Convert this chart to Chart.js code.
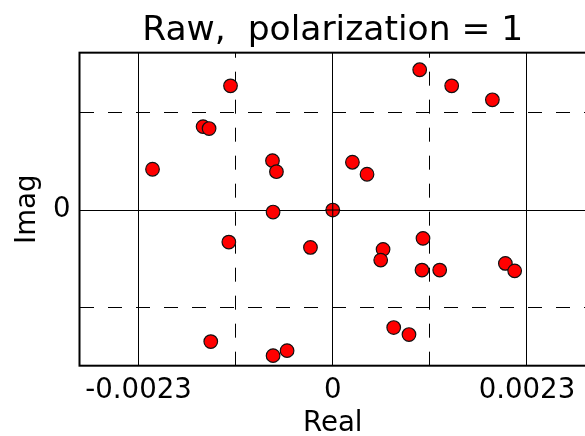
<!DOCTYPE html>
<html>
<head>
<meta charset="utf-8">
<script src="https://cdn.jsdelivr.net/npm/chart.js@4.4.0/dist/chart.umd.min.js"></script>
<style>
html, body { margin: 0; padding: 0; background: #fff; overflow: hidden; }
canvas { display: block; }
</style>
</head>
<body>
<canvas id="polChart" width="586" height="436"></canvas>
<script>
// points
var realVals = [-0.001211, -0.001536, -0.001465, -0.002135, -0.000714, -0.000667, -0.000707,
                 0.000233, 0.000406, 0.001030, 0.001409, 0.001891, -0.001231, -0.000264,
                -0.001445, -0.000707, -0.000541, 0.001069, 0.000596, 0.000568, 0.001057,
                 0.001267, 0.002045, 0.002155, 0.000722, 0.000903, 0];
var imagVals = [ 0.001468, 0.000986, 0.000963, 0.000482, 0.000584, 0.000453, -0.000024,
                 0.000565, 0.000423, 0.001658, 0.001468, 0.001303, -0.000379, -0.000442,
                -0.001555, -0.001721, -0.001662, -0.000335, -0.000465, -0.000592, -0.000710,
                -0.000710, -0.000631, -0.000719, -0.001389, -0.001472, 0];
var originX = [0];
var originY = [0];

var xTickVals = [-0.0023, -0.00115, 0, 0.00115, 0.0023];
var xTickLabels = ['-0.0023', '', '0', '', '0.0023'];
var yTickVals = [-0.00115, 0, 0.00115];
var yTickLabels = ['', '0', ''];
var solidVals = [-0.0023, 0, 0.0023];

var fontFamily = '"DejaVu Sans", sans-serif';

function toPoints(xs, ys){
    var pts = [];
    for(var i=0; i<xs.length; i++){
        pts.push({x: xs[i], y: ys[i]});
    }
    return pts;
}

function setTicks(vals){
    return function(scale){
        scale.ticks = vals.map(function(v){ return {value: v}; });
    };
}

function gridDash(ctx){
    if(ctx.tick && solidVals.indexOf(ctx.tick.value) < 0){
        return [14, 14];
    }
    return [];
}

var framePlugin = {
    id: 'frame',
    afterDraw: function(chart){
        var a = chart.chartArea;
        var c = chart.ctx;
        c.save();
        c.strokeStyle = '#000';
        c.lineWidth = 2;
        c.strokeRect(a.left, a.top, a.right - a.left, a.bottom - a.top);
        c.restore();
    }
};

var ctx = document.getElementById('polChart').getContext('2d');
var chart = new Chart(ctx, {
    type: 'scatter',
    data: {
        datasets: [{
            data: toPoints(originX, originY),
            pointStyle: 'cross',
            pointRadius: 7.4,
            borderColor: '#000',
            borderWidth: 1,
            order: 0
        }, {
            data: toPoints(realVals, imagVals),
            pointRadius: 6.8,
            backgroundColor: '#ff0000',
            borderColor: '#111',
            borderWidth: 1.2,
            order: 1
        }]
    },
    options: {
        responsive: false,
        animation: false,
        layout: { padding: 0, autoPadding: false },
        plugins: {
            legend: { display: false },
            tooltip: { enabled: false },
            title: {
                display: true,
                fullSize: false,
                text: 'Raw,  polarization = 1',
                color: '#000',
                font: { family: fontFamily, size: 34.5, weight: 'normal', lineHeight: 1.15 },
                padding: { top: 11, bottom: 2 }
            }
        },
        scales: {
            x: {
                type: 'linear',
                min: -0.003,
                max: 0.003,
                afterBuildTicks: setTicks(xTickVals),
                afterFit: function(scale){
                    scale.height = 70.3;
                    scale.paddingLeft = 0;
                    scale.paddingRight = 0;
                },
                grid: { color: '#000', lineWidth: 1, drawTicks: false },
                // vertical dashes start from the bottom edge like the original
                border: { display: false, dash: gridDash, dashOffset: 9 },
                ticks: {
                    autoSkip: false,
                    maxRotation: 0,
                    padding: 9,
                    color: '#000',
                    font: { family: fontFamily, size: 27.6 },
                    callback: function(value, index){ return xTickLabels[index]; }
                },
                title: {
                    display: true,
                    text: 'Real',
                    color: '#000',
                    font: { family: fontFamily, size: 27.6, lineHeight: 0.9 },
                    padding: 0
                }
            },
            y: {
                type: 'linear',
                min: -0.00184,
                max: 0.00186,
                afterBuildTicks: setTicks(yTickVals),
                afterFit: function(scale){
                    scale.width = 79.5;
                    scale.paddingTop = 0;
                    scale.paddingBottom = 0;
                },
                grid: { color: '#000', lineWidth: 1, drawTicks: false },
                border: { display: false, dash: gridDash },
                ticks: {
                    autoSkip: false,
                    padding: 9,
                    color: '#000',
                    font: { family: fontFamily, size: 27.6 },
                    callback: function(value, index){ return yTickLabels[index]; }
                },
                title: {
                    display: true,
                    text: 'Imag',
                    color: '#000',
                    font: { family: fontFamily, size: 27.6 },
                    padding: { top: 11, bottom: 0 }
                }
            }
        }
    },
    plugins: [framePlugin]
});
</script>
</body>
</html>
